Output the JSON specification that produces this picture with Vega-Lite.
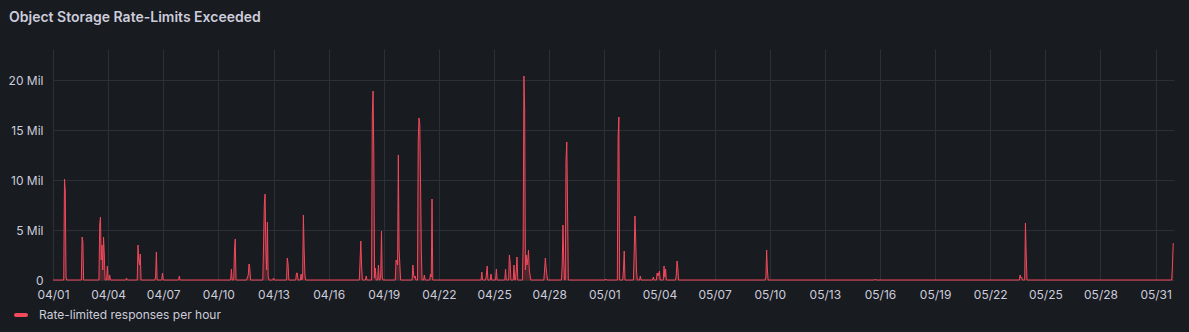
{
  "$schema": "https://vega.github.io/schema/vega-lite/v6.json",
  "width": 1121,
  "height": 231,
  "autosize": "none",
  "padding": {"left": 53, "top": 49, "right": 15, "bottom": 52},
  "background": "#181b1f",
  "title": {
    "text": "Object Storage Rate-Limits Exceeded",
    "anchor": "start",
    "frame": "group",
    "dx": -44,
    "offset": 24,
    "font": "Inter",
    "fontSize": 14,
    "fontWeight": 600,
    "color": "#ccccdc"
  },
  "config": {
    "view": {"stroke": null},
    "axis": {
      "labelFont": "Inter",
      "labelFontSize": 12,
      "labelColor": "#ccccdc",
      "gridColor": "#2c2f35",
      "gridOpacity": 1,
      "domain": false,
      "ticks": false,
      "title": null
    }
  },
  "data": {
    "values": [
      {"t": "2024-04-01T00:00", "v": 0},
      {"t": "2024-04-01T14:00", "v": 0},
      {"t": "2024-04-01T15:00", "v": 10100000},
      {"t": "2024-04-01T16:00", "v": 8900000},
      {"t": "2024-04-01T17:00", "v": 300000},
      {"t": "2024-04-01T18:00", "v": 0},
      {"t": "2024-04-02T13:00", "v": 0},
      {"t": "2024-04-02T14:00", "v": 4300000},
      {"t": "2024-04-02T15:00", "v": 3800000},
      {"t": "2024-04-02T16:00", "v": 0},
      {"t": "2024-04-03T12:00", "v": 0},
      {"t": "2024-04-03T13:00", "v": 5500000},
      {"t": "2024-04-03T14:00", "v": 6300000},
      {"t": "2024-04-03T15:00", "v": 2000000},
      {"t": "2024-04-03T16:00", "v": 3500000},
      {"t": "2024-04-03T17:00", "v": 1000000},
      {"t": "2024-04-03T18:00", "v": 4300000},
      {"t": "2024-04-03T19:00", "v": 2500000},
      {"t": "2024-04-03T20:00", "v": 0},
      {"t": "2024-04-03T22:00", "v": 0},
      {"t": "2024-04-03T23:00", "v": 1400000},
      {"t": "2024-04-04T00:00", "v": 0},
      {"t": "2024-04-04T01:00", "v": 0},
      {"t": "2024-04-04T02:00", "v": 500000},
      {"t": "2024-04-04T03:00", "v": 0},
      {"t": "2024-04-04T23:00", "v": 0},
      {"t": "2024-04-05T00:00", "v": 200000},
      {"t": "2024-04-05T01:00", "v": 0},
      {"t": "2024-04-05T14:00", "v": 0},
      {"t": "2024-04-05T15:00", "v": 3500000},
      {"t": "2024-04-05T16:00", "v": 2000000},
      {"t": "2024-04-05T17:00", "v": 1500000},
      {"t": "2024-04-05T18:00", "v": 2600000},
      {"t": "2024-04-05T19:00", "v": 0},
      {"t": "2024-04-06T13:00", "v": 0},
      {"t": "2024-04-06T14:00", "v": 300000},
      {"t": "2024-04-06T15:00", "v": 2800000},
      {"t": "2024-04-06T16:00", "v": 0},
      {"t": "2024-04-06T22:00", "v": 0},
      {"t": "2024-04-06T23:00", "v": 700000},
      {"t": "2024-04-07T00:00", "v": 0},
      {"t": "2024-04-07T20:00", "v": 0},
      {"t": "2024-04-07T21:00", "v": 400000},
      {"t": "2024-04-07T22:00", "v": 0},
      {"t": "2024-04-10T16:00", "v": 0},
      {"t": "2024-04-10T17:00", "v": 1100000},
      {"t": "2024-04-10T18:00", "v": 0},
      {"t": "2024-04-10T20:00", "v": 0},
      {"t": "2024-04-10T21:00", "v": 3000000},
      {"t": "2024-04-10T22:00", "v": 4100000},
      {"t": "2024-04-10T23:00", "v": 0},
      {"t": "2024-04-11T13:00", "v": 0},
      {"t": "2024-04-11T14:00", "v": 300000},
      {"t": "2024-04-11T15:00", "v": 500000},
      {"t": "2024-04-11T16:00", "v": 1600000},
      {"t": "2024-04-11T17:00", "v": 1200000},
      {"t": "2024-04-11T18:00", "v": 0},
      {"t": "2024-04-12T10:00", "v": 0},
      {"t": "2024-04-12T11:00", "v": 3500000},
      {"t": "2024-04-12T12:00", "v": 7600000},
      {"t": "2024-04-12T13:00", "v": 8600000},
      {"t": "2024-04-12T14:00", "v": 3000000},
      {"t": "2024-04-12T15:00", "v": 1000000},
      {"t": "2024-04-12T16:00", "v": 5800000},
      {"t": "2024-04-12T17:00", "v": 400000},
      {"t": "2024-04-12T18:00", "v": 0},
      {"t": "2024-04-12T23:00", "v": 0},
      {"t": "2024-04-13T00:00", "v": 200000},
      {"t": "2024-04-13T01:00", "v": 0},
      {"t": "2024-04-13T17:00", "v": 0},
      {"t": "2024-04-13T18:00", "v": 2200000},
      {"t": "2024-04-13T19:00", "v": 1600000},
      {"t": "2024-04-13T20:00", "v": 0},
      {"t": "2024-04-14T05:00", "v": 0},
      {"t": "2024-04-14T06:00", "v": 700000},
      {"t": "2024-04-14T07:00", "v": 700000},
      {"t": "2024-04-14T08:00", "v": 0},
      {"t": "2024-04-14T11:00", "v": 0},
      {"t": "2024-04-14T12:00", "v": 600000},
      {"t": "2024-04-14T13:00", "v": 0},
      {"t": "2024-04-14T14:00", "v": 400000},
      {"t": "2024-04-14T15:00", "v": 6500000},
      {"t": "2024-04-14T16:00", "v": 3000000},
      {"t": "2024-04-14T17:00", "v": 500000},
      {"t": "2024-04-14T18:00", "v": 0},
      {"t": "2024-04-17T16:00", "v": 0},
      {"t": "2024-04-17T17:00", "v": 1900000},
      {"t": "2024-04-17T18:00", "v": 3900000},
      {"t": "2024-04-17T19:00", "v": 1500000},
      {"t": "2024-04-17T20:00", "v": 0},
      {"t": "2024-04-18T00:00", "v": 0},
      {"t": "2024-04-18T01:00", "v": 400000},
      {"t": "2024-04-18T02:00", "v": 0},
      {"t": "2024-04-18T08:00", "v": 0},
      {"t": "2024-04-18T09:00", "v": 16600000},
      {"t": "2024-04-18T10:00", "v": 18900000},
      {"t": "2024-04-18T11:00", "v": 12300000},
      {"t": "2024-04-18T12:00", "v": 200000},
      {"t": "2024-04-18T13:00", "v": 1200000},
      {"t": "2024-04-18T14:00", "v": 0},
      {"t": "2024-04-18T16:00", "v": 0},
      {"t": "2024-04-18T17:00", "v": 1500000},
      {"t": "2024-04-18T18:00", "v": 0},
      {"t": "2024-04-18T19:00", "v": 0},
      {"t": "2024-04-18T20:00", "v": 500000},
      {"t": "2024-04-18T21:00", "v": 4900000},
      {"t": "2024-04-18T22:00", "v": 300000},
      {"t": "2024-04-18T23:00", "v": 0},
      {"t": "2024-04-19T15:00", "v": 0},
      {"t": "2024-04-19T16:00", "v": 2000000},
      {"t": "2024-04-19T17:00", "v": 1800000},
      {"t": "2024-04-19T18:00", "v": 1500000},
      {"t": "2024-04-19T19:00", "v": 12500000},
      {"t": "2024-04-19T20:00", "v": 3000000},
      {"t": "2024-04-19T21:00", "v": 1500000},
      {"t": "2024-04-19T22:00", "v": 0},
      {"t": "2024-04-20T13:00", "v": 0},
      {"t": "2024-04-20T14:00", "v": 1500000},
      {"t": "2024-04-20T15:00", "v": 500000},
      {"t": "2024-04-20T16:00", "v": 200000},
      {"t": "2024-04-20T17:00", "v": 400000},
      {"t": "2024-04-20T18:00", "v": 0},
      {"t": "2024-04-20T20:00", "v": 0},
      {"t": "2024-04-20T21:00", "v": 14000000},
      {"t": "2024-04-20T22:00", "v": 16200000},
      {"t": "2024-04-20T23:00", "v": 15600000},
      {"t": "2024-04-21T00:00", "v": 9900000},
      {"t": "2024-04-21T01:00", "v": 3000000},
      {"t": "2024-04-21T02:00", "v": 0},
      {"t": "2024-04-21T04:00", "v": 0},
      {"t": "2024-04-21T05:00", "v": 500000},
      {"t": "2024-04-21T06:00", "v": 0},
      {"t": "2024-04-21T12:00", "v": 0},
      {"t": "2024-04-21T13:00", "v": 600000},
      {"t": "2024-04-21T14:00", "v": 300000},
      {"t": "2024-04-21T15:00", "v": 8100000},
      {"t": "2024-04-21T16:00", "v": 0},
      {"t": "2024-04-24T07:00", "v": 0},
      {"t": "2024-04-24T08:00", "v": 800000},
      {"t": "2024-04-24T09:00", "v": 0},
      {"t": "2024-04-24T13:00", "v": 0},
      {"t": "2024-04-24T14:00", "v": 500000},
      {"t": "2024-04-24T15:00", "v": 1400000},
      {"t": "2024-04-24T16:00", "v": 0},
      {"t": "2024-04-24T19:00", "v": 0},
      {"t": "2024-04-24T20:00", "v": 600000},
      {"t": "2024-04-24T21:00", "v": 0},
      {"t": "2024-04-25T02:00", "v": 0},
      {"t": "2024-04-25T03:00", "v": 1100000},
      {"t": "2024-04-25T04:00", "v": 0},
      {"t": "2024-04-25T14:00", "v": 0},
      {"t": "2024-04-25T15:00", "v": 1100000},
      {"t": "2024-04-25T16:00", "v": 0},
      {"t": "2024-04-25T19:00", "v": 0},
      {"t": "2024-04-25T20:00", "v": 2500000},
      {"t": "2024-04-25T21:00", "v": 1800000},
      {"t": "2024-04-25T22:00", "v": 0},
      {"t": "2024-04-26T01:00", "v": 0},
      {"t": "2024-04-26T02:00", "v": 1500000},
      {"t": "2024-04-26T03:00", "v": 0},
      {"t": "2024-04-26T04:00", "v": 0},
      {"t": "2024-04-26T05:00", "v": 1000000},
      {"t": "2024-04-26T06:00", "v": 2300000},
      {"t": "2024-04-26T07:00", "v": 0},
      {"t": "2024-04-26T13:00", "v": 0},
      {"t": "2024-04-26T14:00", "v": 3500000},
      {"t": "2024-04-26T15:00", "v": 20400000},
      {"t": "2024-04-26T16:00", "v": 17000000},
      {"t": "2024-04-26T17:00", "v": 1000000},
      {"t": "2024-04-26T18:00", "v": 2500000},
      {"t": "2024-04-26T19:00", "v": 1500000},
      {"t": "2024-04-26T20:00", "v": 2000000},
      {"t": "2024-04-26T21:00", "v": 3000000},
      {"t": "2024-04-26T22:00", "v": 1000000},
      {"t": "2024-04-26T23:00", "v": 500000},
      {"t": "2024-04-27T00:00", "v": 0},
      {"t": "2024-04-27T17:00", "v": 0},
      {"t": "2024-04-27T18:00", "v": 1000000},
      {"t": "2024-04-27T19:00", "v": 2200000},
      {"t": "2024-04-27T20:00", "v": 1200000},
      {"t": "2024-04-27T21:00", "v": 500000},
      {"t": "2024-04-27T22:00", "v": 0},
      {"t": "2024-04-28T16:00", "v": 0},
      {"t": "2024-04-28T17:00", "v": 1500000},
      {"t": "2024-04-28T18:00", "v": 5500000},
      {"t": "2024-04-28T19:00", "v": 2000000},
      {"t": "2024-04-28T20:00", "v": 0},
      {"t": "2024-04-28T21:00", "v": 0},
      {"t": "2024-04-28T22:00", "v": 12000000},
      {"t": "2024-04-28T23:00", "v": 13800000},
      {"t": "2024-04-29T00:00", "v": 7300000},
      {"t": "2024-04-29T01:00", "v": 0},
      {"t": "2024-05-01T01:00", "v": 0},
      {"t": "2024-05-01T02:00", "v": 100000},
      {"t": "2024-05-01T03:00", "v": 0},
      {"t": "2024-05-01T17:00", "v": 0},
      {"t": "2024-05-01T18:00", "v": 14300000},
      {"t": "2024-05-01T19:00", "v": 16300000},
      {"t": "2024-05-01T20:00", "v": 0},
      {"t": "2024-05-02T00:00", "v": 0},
      {"t": "2024-05-02T01:00", "v": 1000000},
      {"t": "2024-05-02T02:00", "v": 2900000},
      {"t": "2024-05-02T03:00", "v": 0},
      {"t": "2024-05-02T14:00", "v": 0},
      {"t": "2024-05-02T15:00", "v": 2700000},
      {"t": "2024-05-02T16:00", "v": 6400000},
      {"t": "2024-05-02T17:00", "v": 4000000},
      {"t": "2024-05-02T18:00", "v": 1000000},
      {"t": "2024-05-02T19:00", "v": 0},
      {"t": "2024-05-02T22:00", "v": 0},
      {"t": "2024-05-02T23:00", "v": 400000},
      {"t": "2024-05-03T00:00", "v": 0},
      {"t": "2024-05-03T15:00", "v": 0},
      {"t": "2024-05-03T16:00", "v": 300000},
      {"t": "2024-05-03T17:00", "v": 0},
      {"t": "2024-05-03T20:00", "v": 0},
      {"t": "2024-05-03T21:00", "v": 700000},
      {"t": "2024-05-03T22:00", "v": 400000},
      {"t": "2024-05-03T23:00", "v": 600000},
      {"t": "2024-05-04T00:00", "v": 900000},
      {"t": "2024-05-04T01:00", "v": 0},
      {"t": "2024-05-04T05:00", "v": 0},
      {"t": "2024-05-04T06:00", "v": 1400000},
      {"t": "2024-05-04T07:00", "v": 300000},
      {"t": "2024-05-04T08:00", "v": 1100000},
      {"t": "2024-05-04T09:00", "v": 0},
      {"t": "2024-05-04T21:00", "v": 0},
      {"t": "2024-05-04T22:00", "v": 500000},
      {"t": "2024-05-04T23:00", "v": 1900000},
      {"t": "2024-05-05T00:00", "v": 1200000},
      {"t": "2024-05-05T01:00", "v": 0},
      {"t": "2024-05-09T18:00", "v": 0},
      {"t": "2024-05-09T19:00", "v": 300000},
      {"t": "2024-05-09T20:00", "v": 3000000},
      {"t": "2024-05-09T21:00", "v": 1000000},
      {"t": "2024-05-09T22:00", "v": 0},
      {"t": "2024-05-15T17:00", "v": 0},
      {"t": "2024-05-15T18:00", "v": 100000},
      {"t": "2024-05-15T19:00", "v": 0},
      {"t": "2024-05-23T14:00", "v": 0},
      {"t": "2024-05-23T15:00", "v": 500000},
      {"t": "2024-05-23T16:00", "v": 200000},
      {"t": "2024-05-23T17:00", "v": 300000},
      {"t": "2024-05-23T18:00", "v": 0},
      {"t": "2024-05-23T21:00", "v": 0},
      {"t": "2024-05-23T22:00", "v": 5700000},
      {"t": "2024-05-23T23:00", "v": 2500000},
      {"t": "2024-05-24T00:00", "v": 0},
      {"t": "2024-05-31T21:00", "v": 0},
      {"t": "2024-05-31T22:00", "v": 1500000},
      {"t": "2024-05-31T23:00", "v": 3700000}
    ]
  },
  "encoding": {
    "x": {
      "field": "t",
      "type": "temporal",
      "scale": {
        "domain": [
          {"year": 2024, "month": 4, "date": 1},
          {"year": 2024, "month": 6, "date": 1}
        ]
      },
      "axis": {
        "format": "%m/%d",
        "values": [
          {"year": 2024, "month": 4, "date": 1},
          {"year": 2024, "month": 4, "date": 4},
          {"year": 2024, "month": 4, "date": 7},
          {"year": 2024, "month": 4, "date": 10},
          {"year": 2024, "month": 4, "date": 13},
          {"year": 2024, "month": 4, "date": 16},
          {"year": 2024, "month": 4, "date": 19},
          {"year": 2024, "month": 4, "date": 22},
          {"year": 2024, "month": 4, "date": 25},
          {"year": 2024, "month": 4, "date": 28},
          {"year": 2024, "month": 5, "date": 1},
          {"year": 2024, "month": 5, "date": 4},
          {"year": 2024, "month": 5, "date": 7},
          {"year": 2024, "month": 5, "date": 10},
          {"year": 2024, "month": 5, "date": 13},
          {"year": 2024, "month": 5, "date": 16},
          {"year": 2024, "month": 5, "date": 19},
          {"year": 2024, "month": 5, "date": 22},
          {"year": 2024, "month": 5, "date": 25},
          {"year": 2024, "month": 5, "date": 28},
          {"year": 2024, "month": 5, "date": 31}
        ],
        "labelFlush": false,
        "labelOverlap": false,
        "labelPadding": 9,
        "labelAngle": 0
      }
    },
    "y": {
      "field": "v",
      "type": "quantitative",
      "scale": {"domain": [0, 23100000], "nice": false},
      "axis": {
        "values": [0, 5000000, 10000000, 15000000, 20000000],
        "labelExpr": "datum.value == 0 ? '0' : (datum.value / 1000000) + ' Mil'",
        "labelPadding": 10
      }
    },
    "color": {
      "datum": "Rate-limited responses per hour",
      "type": "nominal",
      "scale": {"range": ["#F2495C"]},
      "legend": {
        "title": null,
        "orient": "none",
        "legendX": -39,
        "legendY": 259,
        "symbolType": "stroke",
        "symbolSize": 100,
        "symbolStrokeWidth": 4,
        "symbolStrokeColor": "#F2495C",
        "symbolOpacity": 1,
        "labelFont": "Inter",
        "labelFontSize": 12,
        "labelColor": "#ccccdc",
        "labelOffset": 11,
        "labelLimit": 0,
        "encode": {"symbols": {"update": {"strokeCap": {"value": "round"}}}}
      }
    }
  },
  "layer": [
    {
      "mark": {"type": "area", "opacity": 0.25}
    },
    {
      "mark": {"type": "line", "strokeWidth": 1}
    }
  ]
}
